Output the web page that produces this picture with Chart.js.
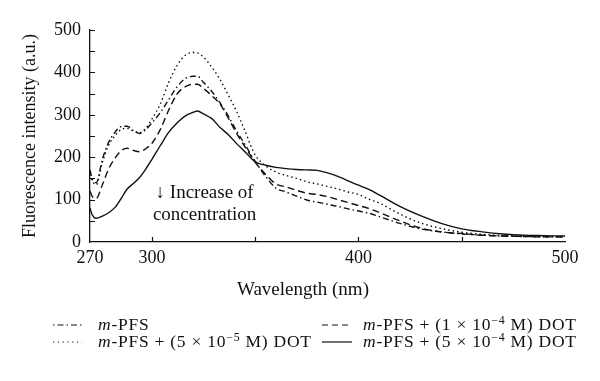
<!DOCTYPE html>
<html>
<head>
<meta charset="utf-8">
<script src="https://cdn.jsdelivr.net/npm/chart.js@4.4.1/dist/chart.umd.min.js"></script>
<style>
  html, body { margin:0; padding:0; background:#fff; }
  #wrap { position:relative; width:600px; height:381px; }
  canvas { position:absolute; left:0; top:0; }
  .leg { position:absolute; font-family:"Liberation Serif", serif; font-size:17.5px; letter-spacing:0.75px; color:#111; white-space:nowrap; line-height:17px; }
  .leg i { font-style:italic; }
  .leg sup { font-size:0.68em; vertical-align:0.5em; line-height:0; }
  .smp { position:absolute; }
</style>
</head>
<body>
<div id="wrap">
  <canvas id="c" width="600" height="381"></canvas>
</div>
<script>
// ---- data ----
const wavelengths = [270,271,273,276,279,282,285,288,291,294,297,300,304,308,312,316,320,322,325,329,333,337,341,345,350,355,360,365,370,375,380,385,390,395,400,405,410,420,430,440,450,460,470,480,490,500];

const mPFS =        [170,150,140,195,235,258,272,273,263,256,265,281,305,335,365,385,391,391,376,355,328,297,262,230,190,155,127,118,108,99,94,89,84,78,73,68,60,44,31,24,19,16,14,13,12,12];
const dot5e5 =      [160,145,135,188,228,250,265,268,262,258,268,290,325,375,415,440,447,446,436,412,383,346,308,262,205,180,165,157,150,142,137,131,125,118,112,101,92,66,45,32,23,18,15,14,13,12];
const dot1e4 =      [120,108,103,135,172,197,215,221,216,213,220,233,265,310,348,366,372,372,362,345,325,292,256,225,188,160,137,130,122,115,112,107,100,93,86,79,70,50,33,24,20,16,14,13,12,12];
const dot5e4 =      [80,65,56,61,69,81,102,125,138,152,172,195,227,258,280,297,306,309,302,291,270,253,232,213,189,181,176,173,171,170,169,163,155,144,134,124,111,84,62,44,31,24,19,16,15,14];

const xLabelTicks = [270,300,400,500];
const xMarkTicks = [300,350,400,450];
const yLabelTicks = [0,100,200,300,400,500];

const seriesNames = ['m-PFS','m-PFS + (5 × 10−5 M) DOT','m-PFS + (1 × 10−4 M) DOT','m-PFS + (5 × 10−4 M) DOT'];

const FONT = '"Liberation Serif", "Times New Roman", serif';
const black = '#111';

function toPts(vals){ return wavelengths.map((w,i)=>({x:w,y:vals[i]})); }

const ds = (label, vals, dash) => ({
  label, data: toPts(vals), borderColor: black, borderWidth: 1.4,
  borderDash: dash, pointRadius: 0, fill: false,
  cubicInterpolationMode: 'monotone', tension: 0.4
});

const extras = {
  id: 'extras',
  afterDraw(chart){
    const ctx = chart.ctx, xs = chart.scales.x, ys = chart.scales.y;
    const area = chart.chartArea;
    ctx.save();
    ctx.strokeStyle = black; ctx.lineWidth = 1.2;
    ctx.beginPath();
    xMarkTicks.forEach(v => { const p = Math.round(xs.getPixelForValue(v))+0.5; ctx.moveTo(p, area.bottom); ctx.lineTo(p, area.bottom-5); });
    for (let v=50; v<=500; v+=50){ const p = Math.round(ys.getPixelForValue(v))+0.5; ctx.moveTo(area.left, p); ctx.lineTo(area.left+5, p); }
    ctx.stroke();
    ctx.fillStyle = black;
    ctx.font = '19px ' + FONT;
    ctx.textAlign = 'center'; ctx.textBaseline = 'middle';
    ctx.fillText('↓ Increase of', xs.getPixelForValue(325.5), ys.getPixelForValue(115));
    ctx.fillText('concentration', xs.getPixelForValue(325.5), ys.getPixelForValue(63));
    ctx.fillText('Wavelength (nm)', 303, 290);
    ctx.restore();
  }
};

new Chart(document.getElementById('c'), {
  type: 'line',
  data: { datasets: [
    ds(seriesNames[0], mPFS, [6,3,1.5,3]),
    ds(seriesNames[1], dot5e5, [1.5,3]),
    ds(seriesNames[2], dot1e4, [7,4]),
    ds(seriesNames[3], dot5e4, [])
  ]},
  options: {
    responsive: false, animation: false,
    layout: { padding: { left: 0, top: 30, right: 35, bottom: 76 } },
    plugins: { legend: { display: false }, tooltip: { enabled: false } },
    scales: {
      x: {
        type: 'linear', min: 270, max: 500,
        afterBuildTicks: s => { s.ticks = xLabelTicks.map(v => ({value: v})); },
        afterFit: s => { s.height = 63; },
        grid: { display: false, drawTicks: false },
        border: { display: true, color: black, width: 1.3 },
        ticks: { color: black, font: { family: FONT, size: 18 }, padding: 5, maxRotation: 0, autoSkip: false },
        title: { display: false }
      },
      y: {
        min: 0, max: 500,
        afterBuildTicks: s => { s.ticks = yLabelTicks.map(v => ({value: v})); },
        afterFit: s => { s.width = 90; },
        grid: { display: false, drawTicks: false },
        border: { display: true, color: black, width: 1.3 },
        ticks: { color: black, font: { family: FONT, size: 18 }, padding: 9 },
        title: { display: true, text: 'Fluorescence intensity (a.u.)', color: black, font: { family: FONT, size: 18 }, padding: { top: 19, bottom: 0 } }
      }
    }
  },
  plugins: [extras]
});

// ---- HTML legend built from seriesNames order ----
const wrap = document.getElementById('wrap');
const legendItems = [
  { dash: '1.5 3 6 3', x1: 53, x2: 82, tx: 98, cy: 325, html: '<i>m</i>-PFS' },
  { dash: '1.2 3.6', x1: 53, x2: 82, tx: 98, cy: 342, html: '<i>m</i>-PFS + (5 × 10<sup>−5</sup> M) DOT' },
  { dash: '6 4', x1: 322, x2: 352, tx: 363, cy: 325, html: '<i>m</i>-PFS + (1 × 10<sup>−4</sup> M) DOT' },
  { dash: '', x1: 322, x2: 352, tx: 363, cy: 342, html: '<i>m</i>-PFS + (5 × 10<sup>−4</sup> M) DOT' }
];
legendItems.forEach(it => {
  const svg = document.createElementNS('http://www.w3.org/2000/svg','svg');
  svg.setAttribute('class','smp');
  svg.setAttribute('width', it.x2-it.x1); svg.setAttribute('height', 6);
  svg.style.left = it.x1+'px'; svg.style.top = (it.cy-3)+'px';
  const ln = document.createElementNS('http://www.w3.org/2000/svg','line');
  ln.setAttribute('x1',0); ln.setAttribute('x2',it.x2-it.x1); ln.setAttribute('y1',3); ln.setAttribute('y2',3);
  ln.setAttribute('stroke','#111'); ln.setAttribute('stroke-width','1.2');
  if (it.dash) ln.setAttribute('stroke-dasharray', it.dash);
  svg.appendChild(ln); wrap.appendChild(svg);
  const d = document.createElement('div');
  d.className = 'leg'; d.innerHTML = it.html;
  d.style.left = it.tx+'px'; d.style.top = (it.cy-9)+'px';
  wrap.appendChild(d);
});
</script>
</body>
</html>
